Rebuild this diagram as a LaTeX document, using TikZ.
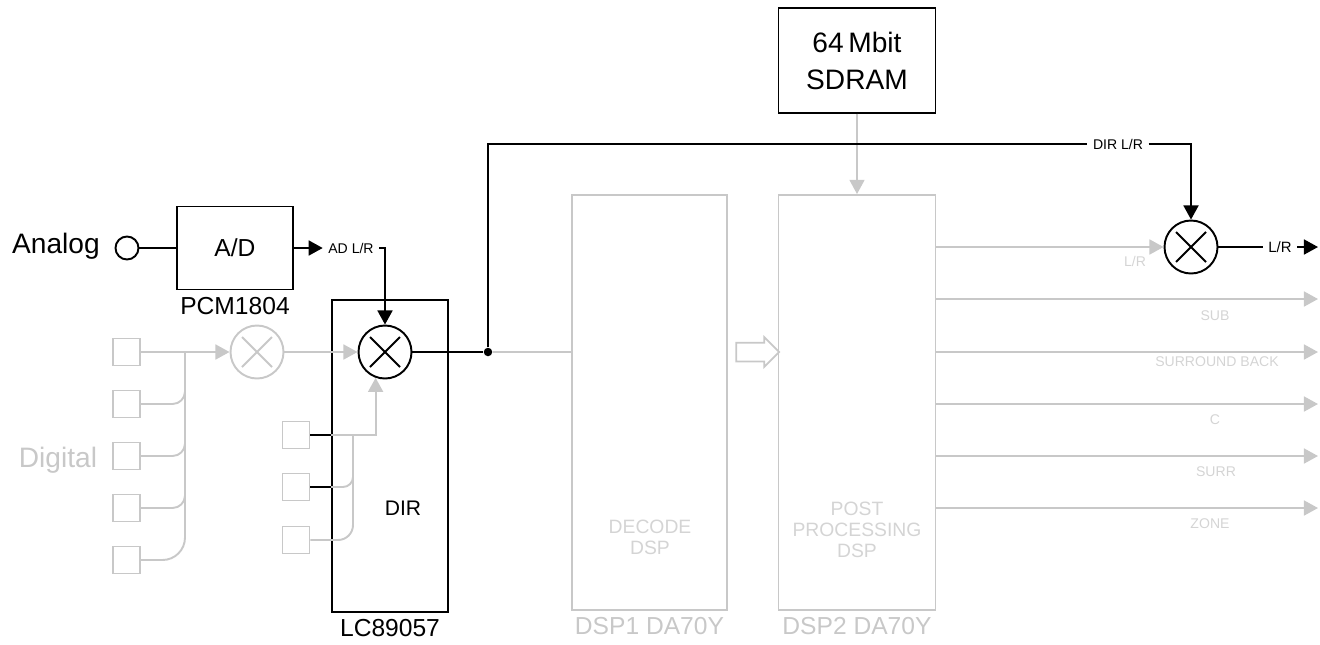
\documentclass[tikz,border=0pt]{standalone}
\usepackage{fontspec}
\setmainfont{Liberation Sans}
\definecolor{greyline}{RGB}{200,200,200}
\definecolor{greytext}{RGB}{212,212,212}
\usetikzlibrary{arrows.meta,positioning,shapes.arrows,calc}

\begin{document}
\begin{tikzpicture}[x=0.2mm, y=-0.2mm,
    blk/.style={rectangle, draw=black, line width=1.1pt, inner sep=0pt},
    gblk/.style={rectangle, draw=greyline, line width=1.1pt, inner sep=0pt},
    sq/.style={rectangle, draw=greyline, line width=1pt, minimum size=0.54cm, inner sep=0pt},
    mixer/.style={circle, draw=#1, line width=1.1pt, minimum size=1.06cm, inner sep=0pt, fill=white,
      path picture={\draw[#1, line width=1.1pt]
        ([shift={(-0.3cm,0.3cm)}]path picture bounding box.center) -- ([shift={(0.3cm,-0.3cm)}]path picture bounding box.center)
        ([shift={(-0.3cm,-0.3cm)}]path picture bounding box.center) -- ([shift={(0.3cm,0.3cm)}]path picture bounding box.center);}},
    mixer/.default=black,
    bline/.style={line width=1.1pt, black},
    gline/.style={line width=1.1pt, greyline},
    barr/.style={bline, -{Triangle[length=8pt,width=8.5pt]}},
    garr/.style={gline, -{Triangle[length=8pt,width=8.5pt]}},
    lbl/.style={font=\fontsize{14}{16}\selectfont},
    glbl/.style={font=\fontsize{14}{16}\selectfont, text=greyline},
    tag/.style={font=\fontsize{8}{9}\selectfont, inner xsep=3pt, inner ysep=1pt},
    gtag/.style={font=\fontsize{8}{9}\selectfont, text=greytext, anchor=north}
  ]
    \useasboundingbox (0,0) rectangle (1320,644);

    % digital inputs (grey)
    \node[glbl, font=\fontsize{16}{18}\selectfont] (digital) at (58,460) {Digital};
    \node[sq] (d1) at (126.5,352) {};
    \node[sq] (d2) at (126.5,404) {};
    \node[sq] (d3) at (126.5,456) {};
    \node[sq] (d4) at (126.5,508) {};
    \node[sq] (d5) at (126.5,560) {};
    \node[mixer=greyline] (gmix) at (257,352) {};
    \coordinate (bus) at (185,352);
    \draw[gline, rounded corners=0.45cm] (d5.east) -| (bus);
    \draw[gline, rounded corners=0.25cm] (d2.east) -| ([yshift=0.3cm]d2.east -| bus);
    \draw[gline, rounded corners=0.25cm] (d3.east) -| ([yshift=0.3cm]d3.east -| bus);
    \draw[gline, rounded corners=0.25cm] (d4.east) -| ([yshift=0.3cm]d4.east -| bus);
    \draw[garr] (d1) -- (gmix);

    % DIR
    \node[blk, minimum width=2.32cm, minimum height=6.24cm] (dir) at (390,456) {};
    \node[lbl, font=\fontsize{12}{14}\selectfont] (dirtxt) at (403,508) {DIR};
    \node[lbl] (lc) at (390,628) {LC89057};
    \node[sq] (e1) at (296,435) {};
    \node[sq] (e2) at (296,487) {};
    \node[sq] (e3) at (296,540) {};
    \coordinate (ebus) at (353,435);
    \draw[gline, rounded corners=0.3cm] (e3.east) -| (ebus);
    \draw[gline, rounded corners=0.2cm] (e2 -| dir.west) -| ([yshift=0.3cm]e2 -| ebus);
    \draw[line width=0.7pt] (e1.east) -- (e1 -| dir.west);
    \draw[line width=0.7pt] (e2.east) -- (e2 -| dir.west);
    \node[mixer] (mix1) at (385,352) {};
    \draw[garr] (e1 -| dir.west) -| (mix1.-110);
    \draw[garr] (gmix) -- (mix1);

    % analog input
    \node[lbl, font=\fontsize{16}{18}\selectfont] (analog) at (56,246) {Analog};
    \node[circle, draw, line width=1.1pt, minimum size=0.46cm, inner sep=0pt] (ain) at (127,248) {};
    \node[blk, minimum width=2.32cm, minimum height=1.66cm, lbl] (ad) at (235,248) {A/D};
    \node[lbl] (pcm) at (235,306) {PCM1804};
    \node[tag] (adlr) at (351,248) {AD L/R};
    \draw[bline] (ain) -- (ad);
    \draw[barr] (ad) -- (adlr);
    \draw[barr] (adlr.east) -| (mix1.north);

    % DSPs
    \node[gblk, minimum width=3.1cm, minimum height=8.3cm] (dsp1) at (649.5,402.5) {};
    \node[gblk, minimum width=3.14cm, minimum height=8.3cm] (dsp2) at (857,402.5) {};
    \node[glbl] (dsp1lbl) at (649.5,626) {DSP1 DA70Y};
    \node[glbl] (dsp2lbl) at (857,626) {DSP2 DA70Y};
    \node[font=\fontsize{11}{12}\selectfont, text=greytext, align=center] (dectxt) at (650,537) {DECODE\\DSP};
    \node[font=\fontsize{11}{12}\selectfont, text=greytext, align=center] (posttxt) at (857,530) {POST\\PROCESSING\\DSP};
    \node[single arrow, draw=greyline, line width=1pt, inner xsep=0pt, inner ysep=0.17cm,
      single arrow head extend=0.11cm, minimum height=0.86cm] (xfer) at (753,352) {};
    \node[blk, line width=0.7pt, minimum width=3.14cm, minimum height=2.1cm, align=center,
      font=\fontsize{16}{21}\selectfont] (sdram) at (857,60.5) {64\,Mbit\\SDRAM};
    \draw[garr, line width=0.7pt] (sdram) -- (dsp2);

    % outputs
    \node[mixer] (mix2) at (1191,247) {};
    \coordinate (o2) at (1318,299);
    \coordinate (o3) at (1318,352);
    \coordinate (o4) at (1318,404);
    \coordinate (o5) at (1318,456);
    \coordinate (o6) at (1318,508);
    \draw[garr] (dsp2.east |- mix2) -- (mix2.west);
    \draw[garr] (o2 -| dsp2.east) -- (o2);
    \draw[garr] (o3 -| dsp2.east) -- (o3);
    \draw[garr] (o4 -| dsp2.east) -- (o4);
    \draw[garr] (o5 -| dsp2.east) -- (o5);
    \draw[garr] (o6 -| dsp2.east) -- (o6);
    \node[gtag] (t1) at (1135,250) {L/R};
    \node[gtag] (t2) at (1215,304) {SUB};
    \node[gtag] (t3) at (1217,350) {SURROUND BACK};
    \node[gtag] (t4) at (1215,408) {C};
    \node[gtag] (t5) at (1216,460) {SURR};
    \node[gtag] (t6) at (1210,512) {ZONE};

    % DIR L/R bypass
    \node[circle, fill=black, inner sep=0pt, minimum size=0.17cm] (junc) at (488,352) {};
    \draw[gline] (junc) -- (junc -| dsp1.west);
    \draw[bline] (mix1) -- (junc);
    \node[tag] (dirlr) at (1118,144) {DIR L/R};
    \draw[bline] (junc) |- (dirlr.west);
    \draw[barr] (dirlr.east) -| (mix2.north);
    \node[tag, font=\fontsize{8.5}{10}\selectfont] (lrout) at (1280,247) {L/R};
    \coordinate (lrend) at (1318,247);
    \draw[bline] (mix2) -- (lrout);
    \draw[barr] (lrout) -- (lrend);
\end{tikzpicture}
\end{document}
